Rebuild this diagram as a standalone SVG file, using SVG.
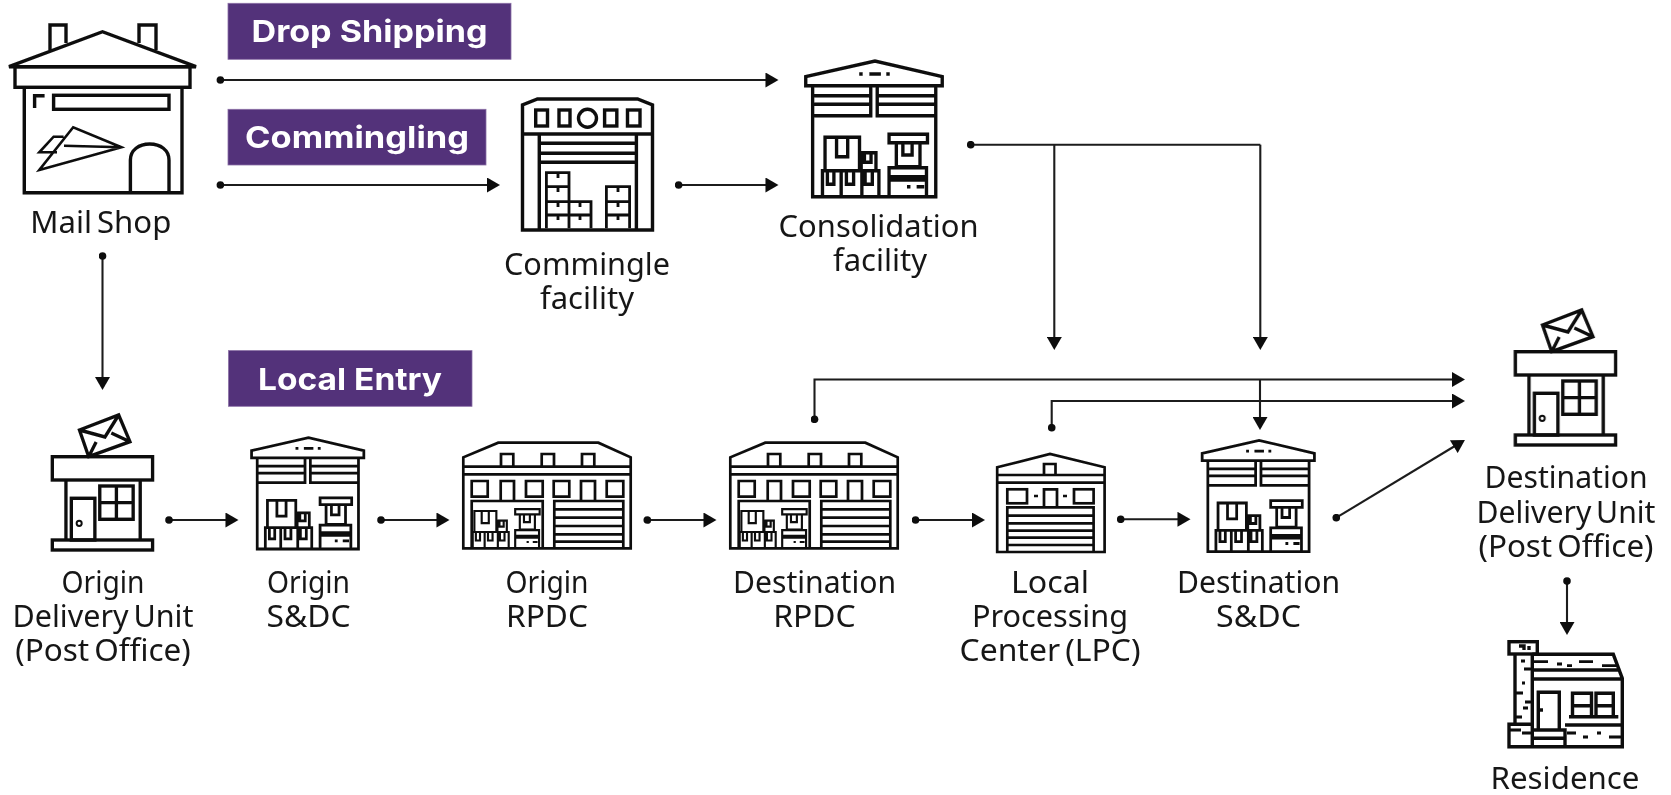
<svg xmlns="http://www.w3.org/2000/svg" xmlns:xlink="http://www.w3.org/1999/xlink" width="1671" height="795" viewBox="0 0 1671 795">
<style>
text{font-family:"Noto Sans","Open Sans",sans-serif;font-size:30px;fill:#151515;text-anchor:middle;word-spacing:-3px}
text.tag{font-family:"Inter","Noto Sans",sans-serif;font-size:30.5px;font-weight:700;fill:#fff;word-spacing:0}
.tagbox{fill:#53307a;stroke:#8a70a5;stroke-width:.8}
.i{fill:none;stroke:#0d0d0d;stroke-width:3.4;stroke-linejoin:miter}
.i2{fill:none;stroke:#0d0d0d;stroke-width:2.7}
.c{fill:none;stroke:#1c1c1c;stroke-width:2.1;marker-start:url(#dot);marker-end:url(#arrow)}
</style>
<defs>
<filter id="soft" x="0" y="0" width="100%" height="100%" filterUnits="userSpaceOnUse" primitiveUnits="userSpaceOnUse"><feGaussianBlur stdDeviation="0.5"/></filter>
<marker id="arrow" markerUnits="userSpaceOnUse" markerWidth="14" markerHeight="15" viewBox="0 0 13 15" refX="9" refY="7.5" orient="auto"><path d="M0 0L13 7.5L0 15Z" fill="#0d0d0d"/></marker>
<marker id="dot" markerUnits="userSpaceOnUse" markerWidth="8" markerHeight="8" viewBox="0 0 8 8" refX="4" refY="4"><circle cx="4" cy="4" r="3.8" fill="#0d0d0d"/></marker>
<g id="boxes" class="i">
<path d="M24.3 115V82.3H59.3V115M36 82.3V101.7H47.3V82.3M61 115V97.7H76V115M64.3 97.7V107.3H71V97.7"/>
<path d="M21.7 141.7V115.7H79V141.7M40.7 115.7V141.7M61.7 115.7V141.7M26.7 115.7V129.3H33.3V115.7M46 115.7V129.3H53.3V115.7M65 115.7V129.3H72.3V115.7"/>
<path d="M89.3 79.3H128.3V87.7H89.3ZM96.7 87.7V111.7H120.7V87.7M103.3 87.7V100H112.7V87.7"/>
<path d="M89.3 141.7V112.7H127.3V141.7M89.3 121.7H127.3M89.3 125H127.3M107.5 131.7H111M117.3 131.7H125"/>
</g>
<g id="warehouse" class="i">
<path d="M4.7 30.7V21.7L75 6L143.3 21.7V30.7Z"/>
<path d="M11.7 30.7V141.7H136.7V30.7M11.7 141.7"/>
<path d="M11.7 40.7H70.7M11.7 49.3H70.7M11.7 60.7H70.7V30.7M77.3 30.7V60.7H136.7M77.3 40.7H136.7M77.3 49.3H136.7M59 19H62.5M69.3 19H81M86.5 19H90"/>
<use xlink:href="#boxes"/>
</g>
<g id="postoffice" class="i">
<path d="M79 430L119 415L130.5 441.7L88.4 456.7ZM79 430L105 437L119 415M88.4 456.7L96 442M130.5 441.7L111.5 433"/>
<rect x="51.3" y="456.7" width="102.3" height="23.3"/>
<path d="M65.2 480V540M141 480V540"/>
<rect x="51.3" y="540" width="102.3" height="10"/>
<rect x="70.7" y="498.3" width="24" height="41.7"/>
<rect x="99.7" y="486" width="34.1" height="33.3"/>
<path d="M116.7 486V519.3M99.7 502.6H133.8"/>
<circle cx="78.7" cy="523.3" r="2.6" stroke-width="2"/>
</g>
<g id="rpdc" class="i2">
<path d="M3.3 108.3V17.3L38.3 2.7H138.3L170.7 17.3V108.3ZM3.3 26.7H170.7M3.3 34.3H170.7"/>
<path d="M41 26.7V14H53.3V26.7M81.7 26.7V14H94V26.7M122 26.7V14H134.3V26.7"/>
<path d="M11.7 41H27.7V56.7H11.7ZM66 41H82.7V56.7H66ZM93.7 41H109.3V56.7H93.7ZM146.7 41H163.3V56.7H146.7Z"/>
<path d="M40.7 61V41H54V61M121 61V41H135V61"/>
<path d="M11.7 108.3V61H82.7V108.3M94.3 108.3V61H163.3V108.3M94.3 69.3H163.3M94.3 77.7H163.3M94.3 86H163.3M94.3 94.3H163.3M94.3 101.7H163.3"/>
<use xlink:href="#boxes" transform="translate(-.9 19.3) scale(.628)"/>
</g>
</defs>
<g filter="url(#soft)">
<g id="tag-drop-shipping"><rect class="tagbox" x="228" y="3.3" width="283" height="56"/><text class="tag" x="369.5" y="41.7" textLength="236" lengthAdjust="spacingAndGlyphs">Drop Shipping</text></g>
<g id="tag-commingling"><rect class="tagbox" x="228" y="109.3" width="258" height="55.7"/><text class="tag" x="357" y="147.7" textLength="224" lengthAdjust="spacingAndGlyphs">Commingling</text></g>
<g id="tag-local-entry"><rect class="tagbox" x="228.5" y="350.6" width="243.5" height="55.7"/><text class="tag" x="350" y="390" textLength="184" lengthAdjust="spacingAndGlyphs">Local Entry</text></g>

<g id="connectors">
<path class="c" d="M220.4 80H774.5"/>
<path class="c" d="M220.4 185H496"/>
<path class="c" d="M678.6 185H774.5"/>
<path class="c" d="M102.5 256V386"/>
<path class="c" style="marker-end:none" d="M970.7 144.7H1260.3"/>
<path class="c" style="marker-start:none" d="M1054.3 144.7V346"/>
<path class="c" style="marker-start:none" d="M1260.3 144.7V346"/>
<path class="c" d="M169 520H234.5"/>
<path class="c" d="M381 520H445.5"/>
<path class="c" d="M647.3 520H712.5"/>
<path class="c" d="M915.5 520H981"/>
<path class="c" d="M1120.7 519.3H1186.5"/>
<path class="c" d="M1336.3 517.7L1461.5 442"/>
<path class="c" d="M814.5 419.3V379.5H1461"/>
<path class="c" d="M1051.7 427.7V401H1461"/>
<path class="c" style="marker-start:none" d="M1260 379.5V426"/>
<path class="c" d="M1567 581V631"/>
</g>

<g id="node-mail-shop">
<g class="i">
<path d="M50 50V25H66V43M139 43V25H156V50"/>
<path d="M9 66.7L102.5 31.7L196 66.7Z"/>
<rect x="15" y="66.7" width="175" height="20.6"/>
<path d="M24.3 87.3V192.7H182V87.3"/>
<path d="M34.6 108V95.7H44.6"/>
<rect x="53.6" y="95.3" width="115.4" height="14"/>
<path d="M121.4 147.3L73.2 127.3L39.3 170ZM64 145.7L121.4 147.3M39.3 170L121.4 147.3M63.6 136.7H53.6L39.3 152.3H57" stroke-width="2.6"/>
<path d="M130.4 192.7V160C130.4 150 139 144 149.7 144C160.4 144 169 150 169 160V192.7"/>
</g>
<text x="100.8" y="232.5" textLength="141" lengthAdjust="spacingAndGlyphs">Mail Shop</text>
</g>

<g id="node-commingle">
<g class="i">
<path d="M522.5 230V105L537.5 99H637.5L652.5 105V230ZM522.5 134H652.5"/>
<rect x="535.7" y="110" width="11.8" height="16"/><rect x="559" y="110" width="11" height="16"/><rect x="604.6" y="110" width="12.2" height="16"/><rect x="627.5" y="110" width="12.5" height="16"/>
<circle cx="587.5" cy="118.3" r="9"/>
<path d="M539.3 230V134M636.4 230V134M539.3 143.3H636.4M539.3 153.3H636.4M539.3 162.3H636.4"/>
<path d="M546.4 228.3V172.7H569V228.3M546.4 186.7H569M546.4 201.7H591V228.3M546.4 215H591M606.4 228.3V186.7H629.6V228.3M606.4 201.7H629.6M606.4 215H629.6M558 173V178M558 187V192M558 202V207M558 215V220M580 202V207M580 215V220M618 187V192M618 202V207M618 215V220" stroke-width="2.8"/>
</g>
<text x="587" y="274.5" textLength="166" lengthAdjust="spacingAndGlyphs">Commingle</text>
<text x="587" y="308.5" textLength="94" lengthAdjust="spacingAndGlyphs">facility</text>
</g>

<g id="node-consolidation">
<use xlink:href="#warehouse" transform="translate(801.1 55) scale(.985 1)"/>
<text x="878.6" y="237.2" textLength="200" lengthAdjust="spacingAndGlyphs">Consolidation</text>
<text x="880" y="271.2" textLength="94" lengthAdjust="spacingAndGlyphs">facility</text>
</g>

<g id="node-origin-du">
<use xlink:href="#postoffice" transform="translate(2.05 0) scale(.98 1)"/>
<text x="103" y="592.5" textLength="83" lengthAdjust="spacingAndGlyphs">Origin</text>
<text x="103" y="626.8" textLength="181" lengthAdjust="spacingAndGlyphs">Delivery Unit</text>
<text x="103" y="661.3" textLength="175.5" lengthAdjust="spacingAndGlyphs">(Post Office)</text>
</g>

<g id="node-origin-sdc">
<use xlink:href="#warehouse" transform="translate(247.75 432.8) scale(.81 .82)"/>
<text x="308.5" y="592.5" textLength="83" lengthAdjust="spacingAndGlyphs">Origin</text>
<text x="308.5" y="626.8" textLength="84" lengthAdjust="spacingAndGlyphs">S&amp;DC</text>
</g>

<g id="node-origin-rpdc">
<use xlink:href="#rpdc" transform="translate(460 440)"/>
<text x="547" y="592.5" textLength="83" lengthAdjust="spacingAndGlyphs">Origin</text>
<text x="547" y="626.8" textLength="82" lengthAdjust="spacingAndGlyphs">RPDC</text>
</g>

<g id="node-destination-rpdc">
<use xlink:href="#rpdc" transform="translate(727 440)"/>
<text x="814.5" y="592.5" textLength="163" lengthAdjust="spacingAndGlyphs">Destination</text>
<text x="814.5" y="626.8" textLength="82.6" lengthAdjust="spacingAndGlyphs">RPDC</text>
</g>

<g id="node-lpc">
<g class="i2">
<path d="M997.2 552V467.3L1050 454L1104.6 467.3V552ZM997.2 475H1104.6M997.2 482.7H1104.6"/>
<path d="M1044 475V464H1055.5V475"/>
<rect x="1007.3" y="489.3" width="19.7" height="14"/><rect x="1074" y="489.3" width="19.6" height="14"/>
<path d="M1044 507.3V489.3H1057V507.3M1034 496H1038M1063 496H1067"/>
<path d="M1007.3 552V507.3H1093.6V552M1007.3 515.7H1093.6M1007.3 523.3H1093.6M1007.3 530.7H1093.6M1007.3 537.7H1093.6M1007.3 545H1093.6"/>
</g>
<text x="1050" y="592.5" textLength="78" lengthAdjust="spacingAndGlyphs">Local</text>
<text x="1050" y="626.8" textLength="156" lengthAdjust="spacingAndGlyphs">Processing</text>
<text x="1050" y="661.3" textLength="181" lengthAdjust="spacingAndGlyphs">Center (LPC)</text>
</g>

<g id="node-destination-sdc">
<use xlink:href="#warehouse" transform="translate(1198.35 435.5) scale(.81 .82)"/>
<text x="1258.5" y="592.5" textLength="163" lengthAdjust="spacingAndGlyphs">Destination</text>
<text x="1258.5" y="626.8" textLength="85" lengthAdjust="spacingAndGlyphs">S&amp;DC</text>
</g>

<g id="node-destination-du">
<use xlink:href="#postoffice" transform="translate(1465.05 -105) scale(.98 1)"/>
<text x="1566" y="488.3" textLength="163" lengthAdjust="spacingAndGlyphs">Destination</text>
<text x="1566" y="522.7" textLength="179" lengthAdjust="spacingAndGlyphs">Delivery Unit</text>
<text x="1566" y="556.7" textLength="175" lengthAdjust="spacingAndGlyphs">(Post Office)</text>
</g>

<g id="node-residence">
<g class="i" transform="translate(1505 635)">
<rect x="4" y="6.7" width="28.3" height="12.3"/>
<path d="M14 11H19V15M24 15V11"/>
<path d="M10 19V88.3M27.3 19V89.3"/>
<path d="M27.3 19.3H108.3L117.3 43.3V111.7H4V89.3H27.3V111.7M27.3 35H113M27.3 44H117.3"/>
<path d="M33.3 95V57.3H54.3V95M35 75H38"/>
<path d="M27.3 95H60V111.7M27.3 103.3H60M60 90H117.3"/>
<path d="M67.5 81.7V58.3H86.5V81.7M91 81.7V58.3H108.3V81.7M67.5 70.7H86.5M91 70.7H108.3M64 81.7H113.3"/>
<path d="M28 26.7H43M52 29H57M62 30.7H67M74 26.7H88M97 30.7H112M16 26H20M19 34H27M17 48H20M10 58H18M20 67H27M18 73H23M10 82H17M4 95H16M17 98H27M62 98H71M78 102H83M92 98H96M104 102H117" stroke-width="2.8"/>
</g>
<text x="1565" y="788.8" textLength="149" lengthAdjust="spacingAndGlyphs">Residence</text>
</g>
</g>
</svg>
